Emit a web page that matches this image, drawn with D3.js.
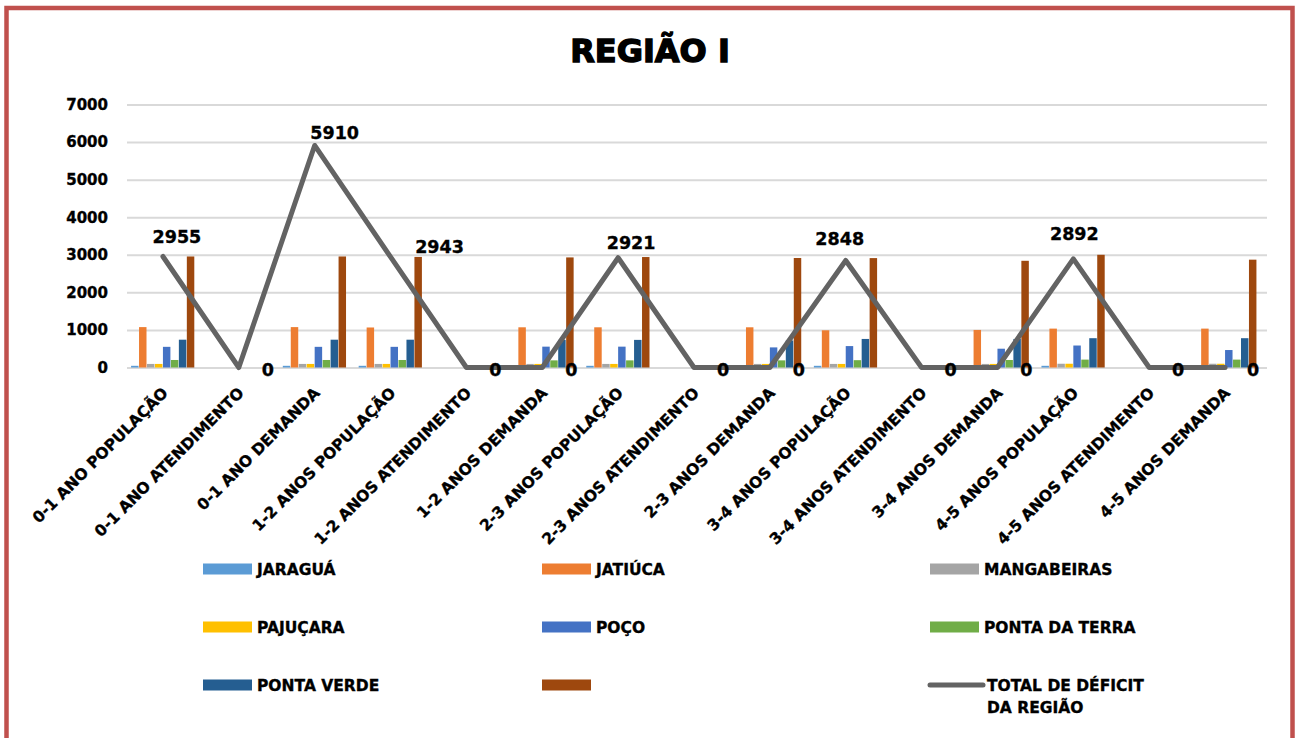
<!DOCTYPE html>
<html><head><meta charset="utf-8">
<script src="https://cdn.jsdelivr.net/npm/d3@7"></script>
<style>
html,body{margin:0;padding:0;background:#fff;}
svg{display:block;}
text{font-family:"DejaVu Sans",sans-serif;font-weight:bold;fill:#000;}
.heavy{stroke:#000;stroke-width:0.35px;}
</style></head>
<body><svg id="c" width="1300" height="738"></svg>
<script>
const categories = ["0-1 ANO POPULAÇÃO","0-1 ANO ATENDIMENTO","0-1 ANO DEMANDA","1-2 ANOS POPULAÇÃO","1-2 ANOS ATENDIMENTO","1-2 ANOS DEMANDA","2-3 ANOS POPULAÇÃO","2-3 ANOS ATENDIMENTO","2-3 ANOS DEMANDA","3-4 ANOS POPULAÇÃO","3-4 ANOS ATENDIMENTO","3-4 ANOS DEMANDA","4-5 ANOS POPULAÇÃO","4-5 ANOS ATENDIMENTO","4-5 ANOS DEMANDA"];
const seriesNames = ["JARAGUÁ","JATIÚCA","MANGABEIRAS","PAJUÇARA","POÇO","PONTA DA TERRA","PONTA VERDE",""];
const jaragua      = [45,0,45,45,0,45,45,0,45,45,0,45,45,0,45];
const jatiuca      = [1075,0,1075,1065,0,1070,1070,0,1070,990,0,1000,1035,0,1035];
const mangabeiras  = [95,0,95,95,0,95,95,0,95,95,0,95,100,0,100];
const pajucara     = [95,0,95,95,0,95,95,0,95,95,0,95,100,0,100];
const poco         = [550,0,550,550,0,555,555,0,535,570,0,500,585,60,465];
const pontaDaTerra = [200,0,200,200,0,190,190,0,190,195,0,200,210,0,210];
const pontaVerde   = [740,0,740,740,0,735,735,0,720,760,0,760,780,0,780];
const semNome      = [2955,0,2955,2943,0,2930,2940,0,2915,2912,0,2840,3000,0,2870];
const totalDeficit = [2955,0,5910,2943,0,0,2921,0,0,2848,0,0,2892,0,0];
const lineName = "TOTAL DE DÉFICIT DA REGIÃO";
const yTicks = [0,1000,2000,3000,4000,5000,6000,7000];
const titleText = "REGIÃO I";

const barSeries = [jaragua,jatiuca,mangabeiras,pajucara,poco,pontaDaTerra,pontaVerde,semNome];
const colors = ["#5B9BD5","#ED7D31","#A5A5A5","#FFC000","#4472C4","#70AD47","#255E91","#9E480E"];
const lineColor = "#636363";
// label offsets (layout only)
const labelDx = [14,29,20,49,29,29,13,29,29,-6,29,29,1,29,28];
const labelDy = [-13,0,-6,-3.5,0,0,-8.5,0,0,-15,0,0,-19,0,0];

const svg = d3.select("#c");
svg.append("rect").attr("x",6.5).attr("y",8).attr("width",1286).attr("height",800)
  .attr("fill","#fff").attr("stroke","#C0504D").attr("stroke-width",4.5);

svg.append("text").attr("x",650).attr("y",62).attr("text-anchor","middle")
  .style("font-size","32px").style("stroke","#000").style("stroke-width","1.4px").text(titleText);

const pLeft=125,pRight=1263,pTop=104.5,pBottom=367.5;
const x0 = d3.scaleBand().domain(categories).range([pLeft,pRight]).paddingInner(0.16).paddingOuter(0.08);
const x1 = d3.scaleBand().domain(d3.range(barSeries.length)).range([0,x0.bandwidth()]);
const y = d3.scaleLinear().domain([0,7000]).range([pBottom,pTop]);
const cx = c => x0(c)+x0.bandwidth()/2;

// grid
const yAxis = d3.axisLeft(y).tickValues(yTicks).tickSize(-(pRight-pLeft+2)).tickPadding(19).tickFormat(d3.format("d"));
const ga = svg.append("g").attr("transform",`translate(${pLeft+2},0)`).call(yAxis);
ga.select(".domain").remove();
ga.selectAll(".tick line").attr("stroke","#D9D9D9").attr("stroke-width",2);
ga.selectAll(".tick text").attr("class","heavy").style("font-size","15px").style("font-family","'DejaVu Sans',sans-serif").attr("fill","#000");

// bars
const gb = svg.append("g");
barSeries.forEach((s,i)=>{
  gb.selectAll(null).data(s).enter().append("rect")
    .attr("x",(d,j)=>x0(categories[j])+x1(i))
    .attr("width",x1.bandwidth()-0.5)
    .attr("y",d=>y(d))
    .attr("height",d=>y(0)-y(d))
    .attr("fill",colors[i]);
});

// x labels
const gx = svg.append("g");
gx.selectAll(null).data(categories).enter().append("text").attr("class","heavy")
  .attr("transform",c=>`translate(${cx(c)+6},394) rotate(-45)`)
  .attr("text-anchor","end").style("font-size","15.5px").text(c=>c);

// line
const line = d3.line().x((d,j)=>cx(categories[j])).y(d=>y(d));
svg.append("path").datum(totalDeficit).attr("d",line).attr("fill","none")
  .attr("stroke",lineColor).attr("stroke-width",5).attr("stroke-linejoin","round").attr("stroke-linecap","round");

// data labels
svg.selectAll(null).data(totalDeficit).enter().append("text").attr("class","heavy")
  .attr("x",(d,j)=>cx(categories[j])+labelDx[j])
  .attr("y",(d,j)=>y(d)+labelDy[j])
  .attr("dy",d=>d===0?"0.5em":"0")
  .attr("text-anchor","middle").style("font-size","17.5px").text(d=>d);

// legend
const legItems = seriesNames.map((n,i)=>({name:n,color:colors[i],type:"bar"}));
legItems.push({name:lineName,color:lineColor,type:"line"});
const colX=[203,542,930], rowY=[569,627,685];
const gl = svg.append("g");
legItems.forEach((it,i)=>{
  const gx_ = colX[i%3], gy_ = rowY[Math.floor(i/3)];
  const g = gl.append("g").attr("transform",`translate(${gx_},${gy_})`);
  if(it.type==="bar"){
    g.append("rect").attr("x",0).attr("y",-5.5).attr("width",49).attr("height",11).attr("fill",it.color);
  } else {
    g.append("line").attr("x1",0).attr("x2",53).attr("y1",0).attr("y2",0).attr("stroke",it.color).attr("stroke-width",5).attr("stroke-linecap","round");
  }
  const t = g.append("text").attr("class","heavy").attr("x",it.type==="bar"?54:57).attr("y",5.5).style("font-size","15.5px");
  if(it.type==="line"){
    t.append("tspan").attr("x",57).text("TOTAL DE DÉFICIT");
    t.append("tspan").attr("x",57).attr("dy",22).text("DA REGIÃO");
  } else t.text(it.name);
});
</script></body></html>
